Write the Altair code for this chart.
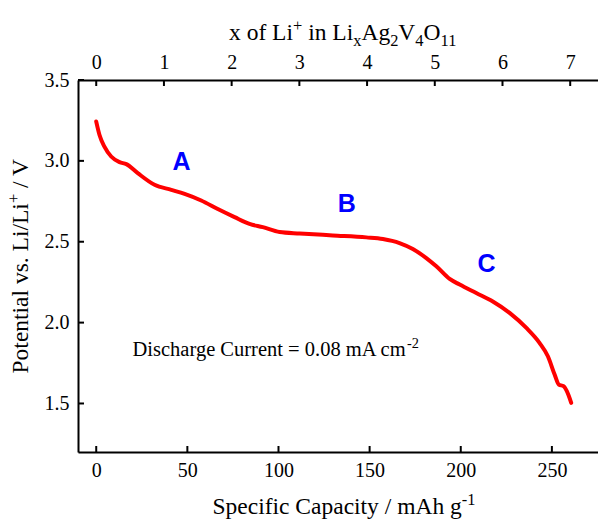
import altair as alt
import pandas as pd

# Discharge curve of Li / Ag2V4O11
capacity = [0, 1.8, 4.5, 8.2, 12.8, 16.5, 22.8, 32.0, 41.2, 48.5, 57.6, 66.7,
            75.9, 84.1, 91.4, 100.6, 111.6, 129.8, 148.2, 157.3, 166.4, 173.7,
            181.1, 186.6, 193.9, 199.4, 208.5, 217.6, 226.8, 236.0, 243.2,
            247.8, 251.5, 253.8, 256.4, 258.2, 260.6]
potential = [3.243, 3.160, 3.088, 3.027, 2.992, 2.980, 2.924, 2.852, 2.821,
             2.796, 2.755, 2.702, 2.652, 2.610, 2.590, 2.560, 2.551, 2.539,
             2.527, 2.517, 2.492, 2.455, 2.399, 2.348, 2.270, 2.235, 2.183,
             2.131, 2.060, 1.967, 1.875, 1.792, 1.679, 1.617, 1.607, 1.576,
             1.504]

# Region labels
region_names = ["A", "B", "C"]
region_cap = [46.8, 137.4, 214.2]
region_v = [2.994, 2.735, 2.364]

# Axis ticks
cap_ticks = [0, 50, 100, 150, 200, 250]
li_ticks = [0, 1, 2, 3, 4, 5, 6, 7]
v_ticks = [1.5, 2.0, 2.5, 3.0, 3.5]

# Titles and note as (text, role) runs: base / sup / sub
x_title = [("Specific Capacity / mAh g", "base"), ("-1", "sup")]
top_title = [("x of Li", "base"), ("+", "sup"), (" in Li", "base"), ("x", "sub"),
             ("Ag", "base"), ("2", "sub"), ("V", "base"), ("4", "sub"),
             ("O", "base"), ("11", "sub")]
y_title = [("Potential vs. Li/Li", "base"), ("+", "sup"), (" / V", "base")]
note_runs = [("Discharge Current = 0.08 mA cm", "base"), ("-2", "sup")]
note_cap = 19.9
note_v = 1.796

MAH_PER_LI = 37.15  # specific capacity per Li inserted
CAP_DOMAIN = [-10, 275.3]
LI_DOMAIN = [CAP_DOMAIN[0] / MAH_PER_LI, CAP_DOMAIN[1] / MAH_PER_LI]
V_DOMAIN = [1.2, 3.5]

W, H = 520, 372
SERIF = "Liberation Serif"
TICK_LEN = 6
TITLE_SIZE = 23.5
NOTE_SIZE = 20.5
SCRIPT = 0.7

# Times / Liberation Serif advance widths (em)
ADV = {" ": .25, "x": .5, "o": .5, "f": .333, "L": .611, "i": .278, "n": .5,
       "A": .722, "g": .5, "V": .722, "O": .722, "+": .564, "/": .278,
       "P": .556, "t": .278, "e": .444, "a": .444, "l": .278, "v": .5,
       "s": .389, ".": .25, "S": .556, "p": .5, "c": .444, "C": .667,
       "y": .5, "m": .778, "h": .5, "-": .333, "=": .564, "D": .722,
       "r": .333, "u": .5}


def text_width(s, size):
    return sum(ADV.get(ch, .5) for ch in s) * size


def run_layers(runs, size, x, y, angle=0):
    """Text runs laid end to end from one anchor, with raised / lowered scripts."""
    layers, pos = [], 0.0
    for t, role in runs:
        fs = size * (SCRIPT if role != "base" else 1)
        shift = {"base": 0, "sup": -0.38 * size, "sub": 0.25 * size}[role]
        lead = len(t) - len(t.lstrip(" "))
        props = dict(text=t.strip(" "), font=SERIF, fontSize=fs, color="black",
                     align="left", baseline="alphabetic",
                     dx=pos + text_width(" " * lead, fs), dy=shift)
        if angle:
            props["angle"] = angle
        layers.append(
            alt.Chart(pd.DataFrame({"k": [0]})).mark_text(**props).encode(x=x, y=y)
        )
        pos += text_width(t, fs)
    return layers, pos


curve_df = pd.DataFrame({"capacity": capacity, "potential": potential})
region_df = pd.DataFrame({"name": region_names, "capacity": region_cap, "potential": region_v})
li_df = pd.DataFrame({"li": li_ticks})

cap_scale = alt.Scale(domain=CAP_DOMAIN, nice=False, zero=False)
li_scale = alt.Scale(domain=LI_DOMAIN, nice=False, zero=False)
v_scale = alt.Scale(domain=V_DOMAIN, nice=False, zero=False)

# tick length in data units of each scale
cap_per_px = (CAP_DOMAIN[1] - CAP_DOMAIN[0]) / W
v_per_px = (V_DOMAIN[1] - V_DOMAIN[0]) / H

axis_style = dict(labelFont=SERIF, labelFontSize=20, labelColor="black",
                  grid=False, ticks=False, domainColor="black", domainWidth=2,
                  labelFlush=False, title=None)

# main curve carrying the domain lines and labels
line = alt.Chart(curve_df).mark_line(
    color="#ff0000", strokeWidth=4, interpolate="monotone", strokeCap="round"
).encode(
    x=alt.X("capacity:Q", scale=cap_scale,
            axis=alt.Axis(orient="bottom", values=cap_ticks, format="d",
                          labelPadding=8, **axis_style)),
    y=alt.Y("potential:Q", scale=v_scale,
            axis=alt.Axis(orient="left", values=v_ticks, format=".1f",
                          labelPadding=9, **axis_style)),
)

# top axis: Li content
top_axis = alt.Chart(li_df).mark_point(opacity=0).encode(
    x=alt.X("li:Q", scale=li_scale,
            axis=alt.Axis(orient="top", values=li_ticks, format="d",
                          labelPadding=8, **axis_style)),
)

# inward tick marks
tick_mark = dict(color="black", strokeWidth=2)

bottom_ticks = alt.Chart(pd.DataFrame({"capacity": cap_ticks})).transform_calculate(
    y0=str(V_DOMAIN[0]), y1=str(V_DOMAIN[0] + TICK_LEN * v_per_px)
).mark_rule(**tick_mark).encode(
    x=alt.X("capacity:Q", scale=cap_scale, axis=None),
    y=alt.Y("y0:Q", scale=v_scale, axis=None),
    y2="y1:Q",
)

top_ticks = alt.Chart(li_df).transform_calculate(
    y0=str(V_DOMAIN[1]), y1=str(V_DOMAIN[1] - TICK_LEN * v_per_px)
).mark_rule(**tick_mark).encode(
    x=alt.X("li:Q", scale=li_scale, axis=None),
    y=alt.Y("y0:Q", scale=v_scale, axis=None),
    y2="y1:Q",
)

left_ticks = alt.Chart(pd.DataFrame({"potential": v_ticks})).transform_calculate(
    x0=str(CAP_DOMAIN[0]), x1=str(CAP_DOMAIN[0] + TICK_LEN * cap_per_px)
).mark_rule(**tick_mark).encode(
    x=alt.X("x0:Q", scale=cap_scale, axis=None),
    x2="x1:Q",
    y=alt.Y("potential:Q", scale=v_scale, axis=None),
)

regions = alt.Chart(region_df).mark_text(
    font="Liberation Sans", fontSize=25, fontWeight="bold", color="#0000ff",
    align="center", baseline="middle"
).encode(
    x=alt.X("capacity:Q", scale=cap_scale, axis=None),
    y=alt.Y("potential:Q", scale=v_scale, axis=None),
    text="name:N",
)

# titles, centred near the plot area
_, w_x = run_layers(x_title, TITLE_SIZE, alt.value(0), alt.value(0))
x_title_layers, _ = run_layers(x_title, TITLE_SIZE,
                               alt.value(W / 2 - w_x / 2 + 6), alt.value(H + 62))
_, w_top = run_layers(top_title, TITLE_SIZE, alt.value(0), alt.value(0))
top_title_layers, _ = run_layers(top_title, TITLE_SIZE,
                                 alt.value(W / 2 - w_top / 2 + 5), alt.value(-40))
_, w_y = run_layers(y_title, TITLE_SIZE, alt.value(0), alt.value(0))
y_title_layers, _ = run_layers(y_title, TITLE_SIZE, alt.value(-50),
                               alt.value(H / 2 + w_y / 2), angle=270)
note_layers, _ = run_layers(
    note_runs, NOTE_SIZE,
    alt.X("nx:Q", scale=cap_scale, axis=None),
    alt.Y("ny:Q", scale=v_scale, axis=None),
)
note_layers = [l.transform_calculate(nx=str(note_cap), ny=str(note_v)) for l in note_layers]

chart = alt.layer(
    line, top_axis, bottom_ticks, top_ticks, left_ticks, regions,
    *note_layers, *x_title_layers, *top_title_layers, *y_title_layers
).resolve_scale(
    x="independent", y="independent"
).properties(
    width=W, height=H,
    autosize=alt.AutoSizeParams(type="none"),
    padding={"left": 78, "top": 80, "right": 0, "bottom": 68},
).configure_view(
    stroke=None
).configure(background="white")

chart.save("out.html", embed_options={"renderer": "svg", "actions": False})
